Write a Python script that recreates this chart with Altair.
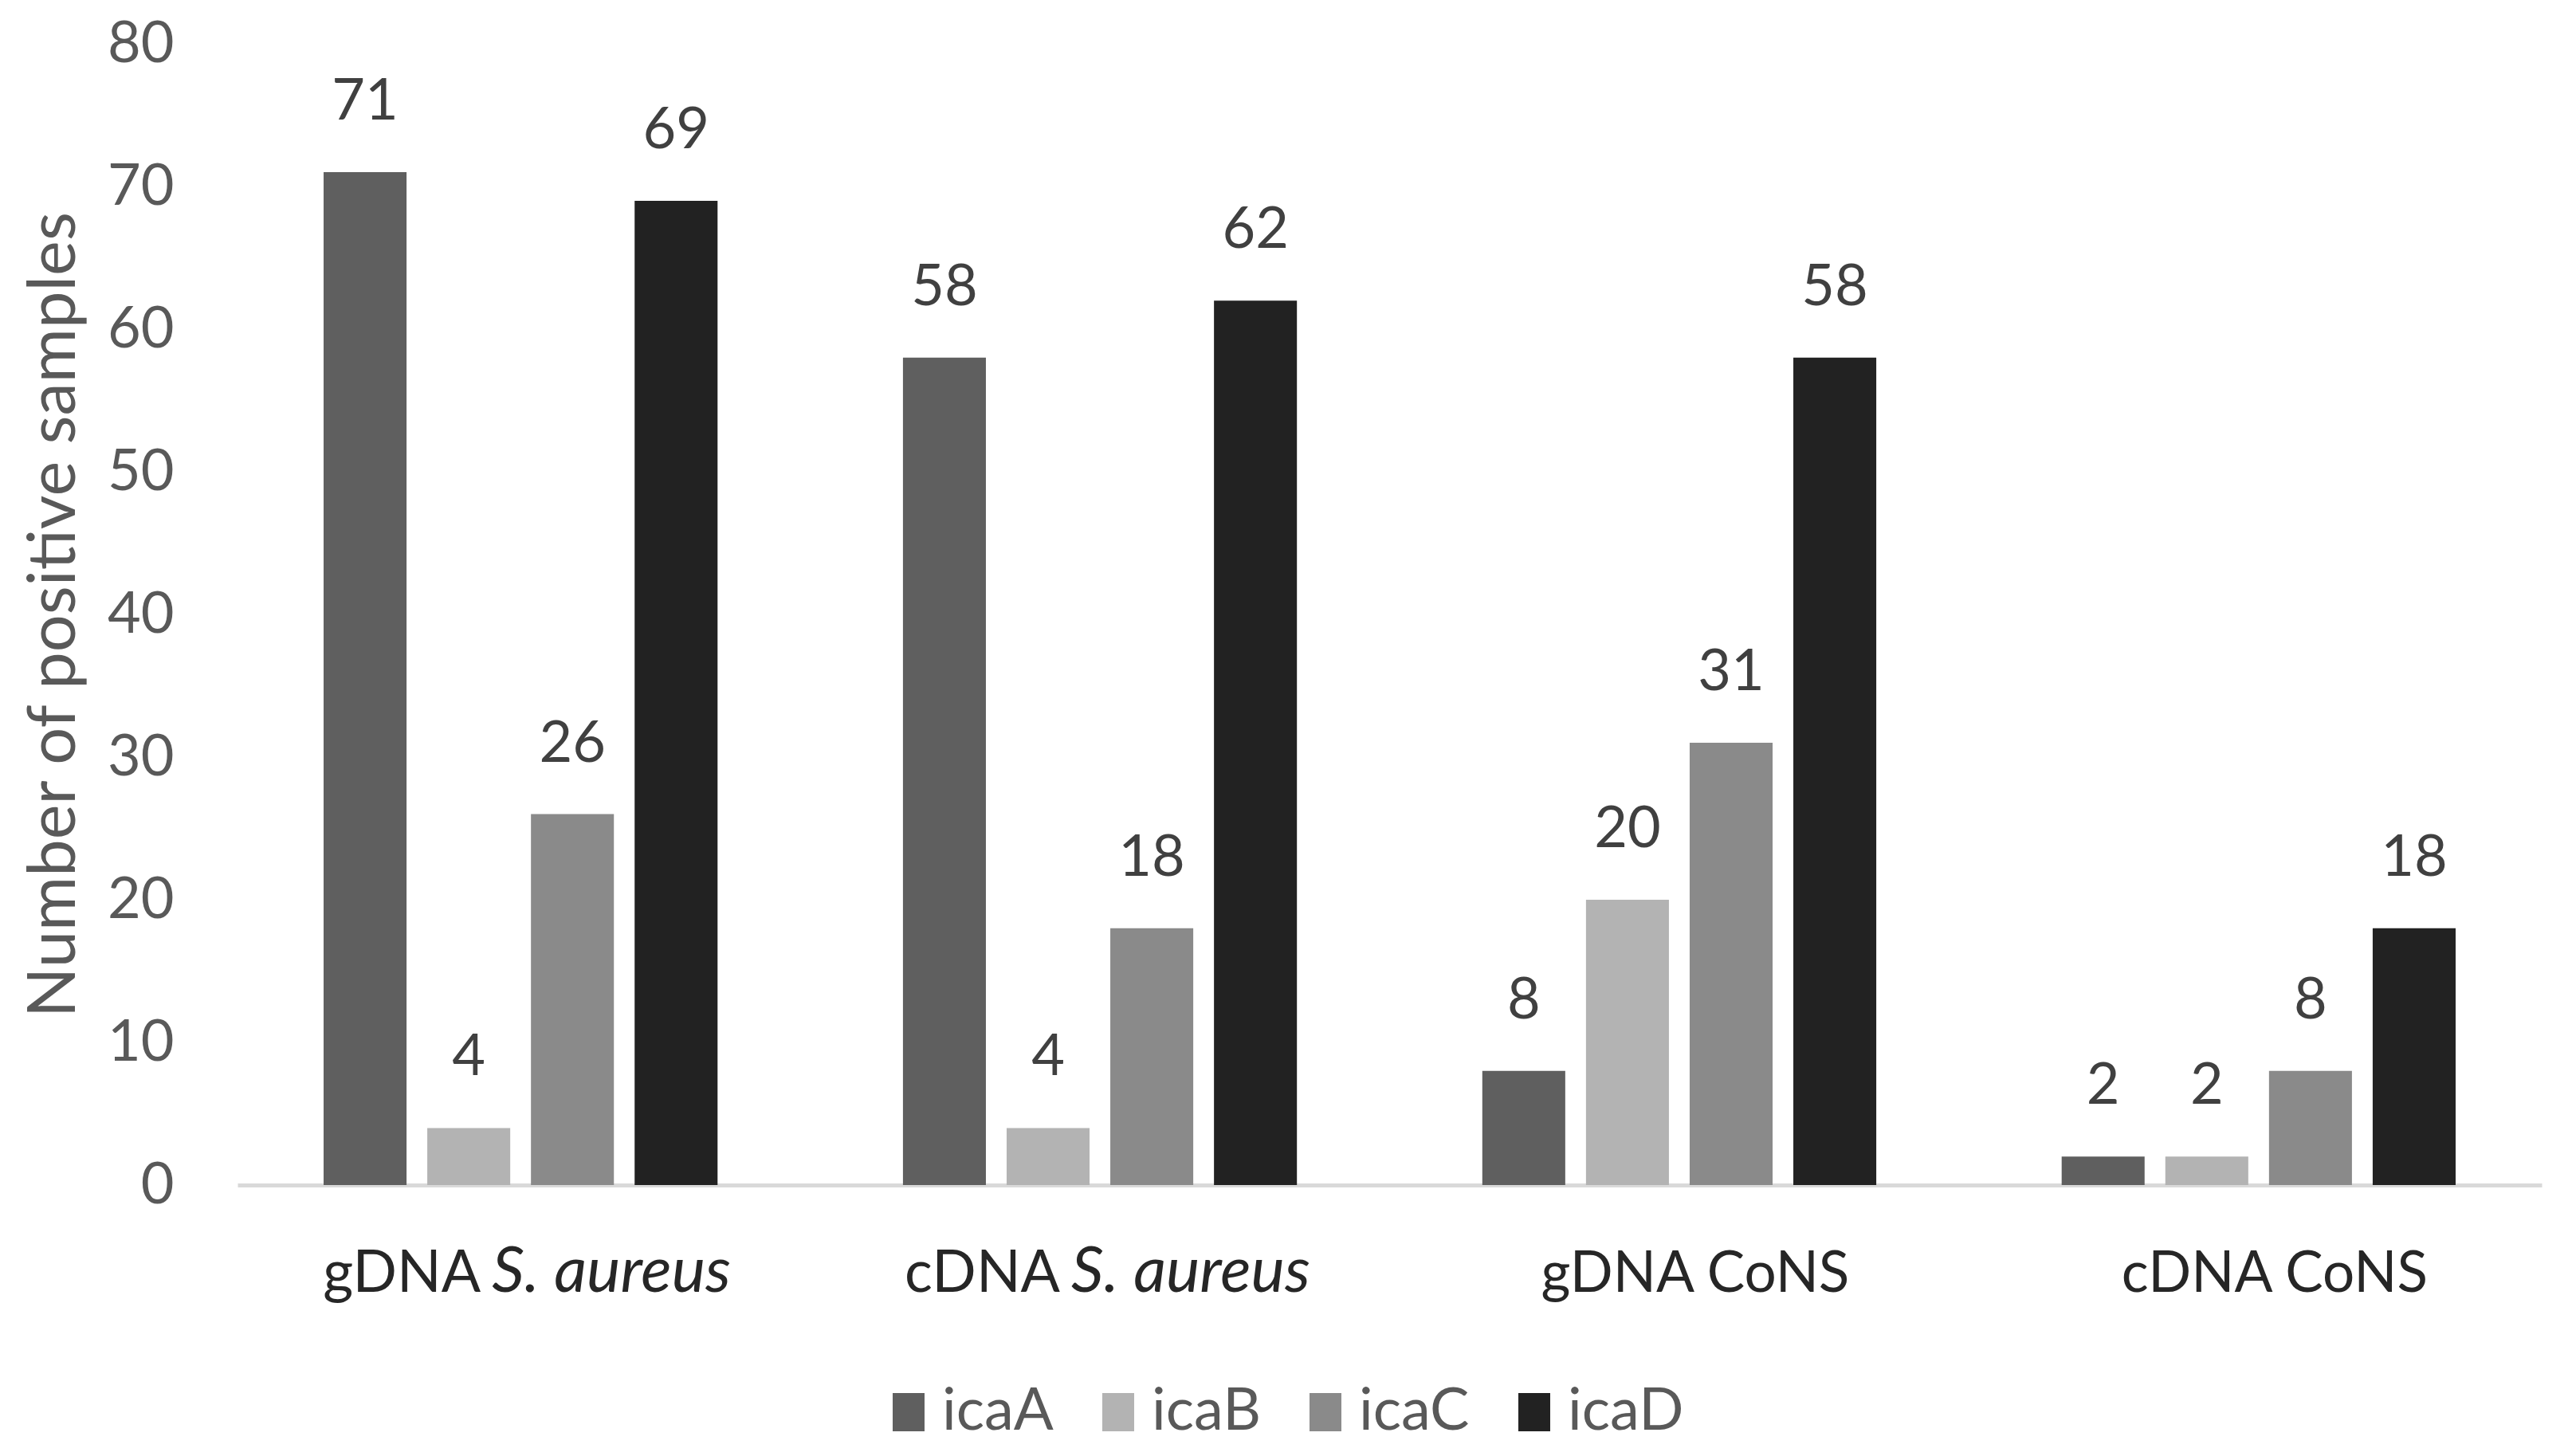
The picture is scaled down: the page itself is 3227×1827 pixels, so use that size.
import altair as alt
import pandas as pd

categories = ["gDNA S. aureus", "cDNA S. aureus", "gDNA CoNS", "cDNA CoNS"]
label_plain = ["gDNA", "cDNA", "gDNA CoNS", "cDNA CoNS"]
label_italic = ["S. aureus", "S. aureus", "", ""]
genes = ["icaA", "icaB", "icaC", "icaD"]
icaA = [71, 58, 8, 2]
icaB = [4, 4, 20, 2]
icaC = [26, 18, 31, 8]
icaD = [69, 62, 58, 18]
colors = ["#5f5f5f", "#b3b3b3", "#8a8a8a", "#222222"]
y_ticks = [0, 10, 20, 30, 40, 50, 60, 70, 80]

rows = []
for i, c in enumerate(categories):
    for g, vals in zip(genes, [icaA, icaB, icaC, icaD]):
        rows.append({"category": c, "gene": g, "value": vals[i]})
df = pd.DataFrame(rows)

lab = pd.DataFrame({
    "category": categories,
    "plain": label_plain,
    "italic": label_italic,
    "mixed": [1 if s else 0 for s in label_italic],
})

W = 2891
H = 1432
FONT = "Lato"

x = alt.X("category:N", sort=categories,
          scale=alt.Scale(paddingInner=0.32, paddingOuter=0.1486),
          axis=alt.Axis(labels=False, ticks=False, title=None,
                        domainColor="#d9d9d9", domainWidth=5))
xo = alt.XOffset("gene:N", sort=genes, scale=alt.Scale(paddingInner=0.2, paddingOuter=0))
y = alt.Y("value:Q", scale=alt.Scale(domain=[0, 80], nice=False),
          axis=alt.Axis(values=y_ticks, grid=False, domain=False, ticks=False,
                        labelPadding=80, labelFontSize=72, labelColor="#595959",
                        labelFont=FONT, title="Number of positive samples",
                        titleFontSize=83, titleColor="#595959", titleFont=FONT,
                        titleFontWeight="normal", titlePadding=24))

color = alt.Color("gene:N", sort=genes,
                  scale=alt.Scale(domain=genes, range=colors),
                  legend=alt.Legend(title=None, orient="none", direction="horizontal",
                                    legendX=805, legendY=1680,
                                    symbolType="M-0.833,-1H0.833V1H-0.833Z",
                                    symbolSize=2304, symbolStrokeWidth=0,
                                    symbolOpacity=1,
                                    labelFontSize=74, labelColor="#595959",
                                    labelFont=FONT, labelOffset=5, labelLimit=500,
                                    columnPadding=44, padding=0))

bars = alt.Chart(df).mark_bar().encode(x=x, xOffset=xo, y=y, color=color)

values = alt.Chart(df).mark_text(baseline="alphabetic", dy=-66, fontSize=72,
                                 font=FONT, color="#404040").encode(
    x=alt.X("category:N", sort=categories), xOffset=alt.XOffset("gene:N", sort=genes),
    y="value:Q", text="value:Q")

cat_y = alt.value(H + 134)
plain_mixed = alt.Chart(lab).transform_filter("datum.mixed == 1").mark_text(
    align="right", baseline="alphabetic", dx=-50, fontSize=73, font=FONT,
    color="#262626").encode(x=alt.X("category:N", sort=categories), y=cat_y, text="plain:N")
italic_mixed = alt.Chart(lab).transform_filter("datum.mixed == 1").mark_text(
    align="left", baseline="alphabetic", dx=-36, fontSize=80, font=FONT,
    fontStyle="italic", color="#262626").encode(
    x=alt.X("category:N", sort=categories), y=cat_y, text="italic:N")
plain_only = alt.Chart(lab).transform_filter("datum.mixed == 0").mark_text(
    align="center", baseline="alphabetic", dx=20, fontSize=71, font=FONT,
    color="#262626").encode(x=alt.X("category:N", sort=categories), y=cat_y, text="plain:N")

chart = alt.layer(bars, values, plain_mixed, italic_mixed, plain_only).properties(
    width=W, height=H,
    autosize=alt.AutoSizeParams(type="none"),
    padding={"left": 290, "top": 47, "right": 30, "bottom": 332},
    background="white",
).configure_view(stroke=None)

chart.save("out.html", embed_options={"renderer": "svg", "actions": False})
